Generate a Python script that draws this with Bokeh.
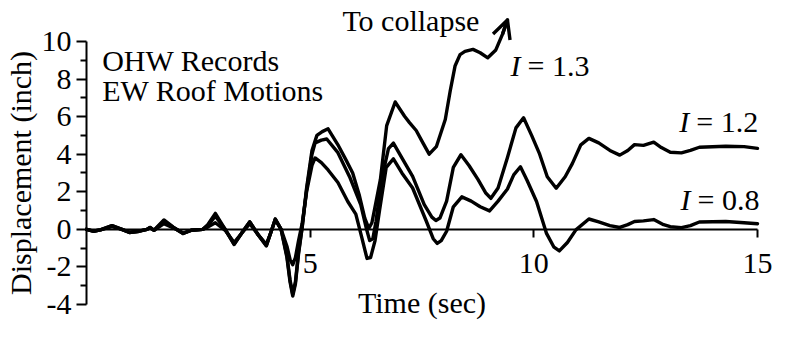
import math
from bokeh.plotting import figure
from bokeh.models import Range1d, FixedTicker, Label, Arrow, OpenHead
from bokeh.embed import file_html
from bokeh.resources import INLINE

# ---- data ----
x_ticks = [5, 10, 15]
y_ticks = [-4, -2, 0, 2, 4, 6, 8, 10]
y_minor = [-3, -1, 1, 3, 5, 7, 9]

t_13 = [0.0, 0.15, 0.31, 0.57, 0.79, 0.96, 1.18, 1.35, 1.42, 1.51, 1.73, 1.94, 2.16, 2.34, 2.60, 2.71,
        2.88, 3.10, 3.30, 3.47, 3.65, 3.84, 4.02, 4.13, 4.22, 4.35, 4.48, 4.55, 4.61, 4.67, 4.74, 4.82,
        4.92, 5.04, 5.15, 5.27, 5.40, 5.62, 5.80, 5.95, 6.10, 6.22, 6.31, 6.38, 6.45, 6.57, 6.71, 6.90,
        7.11, 7.22, 7.37, 7.52, 7.66, 7.82, 8.02, 8.13, 8.24, 8.35, 8.46, 8.64, 8.80, 8.97, 9.15, 9.30, 9.41]
d_13 = [0.0, -0.1, -0.03, 0.2, 0.0, -0.17, -0.1, 0.0, 0.1, -0.05, 0.5, 0.12, -0.22, -0.05, 0.0, 0.25,
        0.85, 0.0, -0.8, -0.2, 0.4, -0.3, -0.88, -0.1, 0.55, 0.0, -1.5, -2.8, -3.55, -2.9, -1.3, 0.1,
        2.2, 4.2, 5.0, 5.2, 5.35, 4.5, 3.7, 3.0, 1.8, 0.6, 0.05, 0.35, 1.2, 2.66, 5.52, 6.78,
        6.02, 5.68, 5.26, 4.6, 4.0, 4.4, 5.85, 7.36, 8.71, 9.3, 9.47, 9.58, 9.4, 9.13, 9.55, 10.39, 11.14]

t_12 = [0.0, 0.15, 0.31, 0.57, 0.79, 0.96, 1.18, 1.35, 1.42, 1.51, 1.73, 1.94, 2.16, 2.34, 2.60, 2.71,
        2.88, 3.10, 3.30, 3.47, 3.65, 3.84, 4.02, 4.13, 4.22, 4.35, 4.48, 4.55, 4.61, 4.67, 4.74, 4.82,
        4.92, 5.04, 5.11, 5.25, 5.37, 5.62, 5.88, 6.13, 6.25, 6.33, 6.40, 6.47, 6.60, 6.75, 6.86, 7.05,
        7.29, 7.55, 7.72, 7.81, 7.90, 8.05, 8.20, 8.37, 8.55, 8.75, 8.92, 9.04, 9.20, 9.41, 9.60, 9.77,
        9.95, 10.13, 10.30, 10.50, 10.70, 10.86, 11.05, 11.23, 11.45, 11.70, 11.92, 12.10, 12.25, 12.45,
        12.68, 12.85, 13.05, 13.30, 13.50, 13.70, 14.29, 14.70, 15.0]
d_12 = [0.0, -0.1, -0.03, 0.2, 0.0, -0.17, -0.1, 0.0, 0.1, -0.05, 0.45, 0.1, -0.22, -0.05, 0.0, 0.2,
        0.7, 0.0, -0.8, -0.2, 0.4, -0.3, -0.86, -0.1, 0.55, 0.0, -1.4, -2.7, -3.45, -2.8, -1.2, 0.1,
        2.1, 4.0, 4.6, 4.75, 4.81, 4.08, 2.8, 1.31, 0.1, -0.6, -0.5, 0.4, 2.7, 4.3, 4.59, 3.8,
        2.82, 1.31, 0.65, 0.47, 0.6, 1.5, 3.3, 3.97, 3.4, 2.66, 1.95, 1.65, 2.2, 3.83, 5.4, 5.94,
        5.0, 4.0, 2.8, 2.19, 2.8, 3.5, 4.5, 4.84, 4.6, 4.2, 3.95, 4.2, 4.51, 4.47,
        4.64, 4.35, 4.1, 4.07, 4.2, 4.37, 4.42, 4.40, 4.31]

t_08 = [0.0, 0.15, 0.31, 0.57, 0.79, 0.96, 1.18, 1.35, 1.42, 1.51, 1.73, 1.94, 2.16, 2.34, 2.60, 2.71,
        2.88, 3.10, 3.30, 3.47, 3.65, 3.84, 4.02, 4.13, 4.22, 4.35, 4.48, 4.55, 4.61, 4.67, 4.74, 4.82,
        4.92, 5.04, 5.11, 5.25, 5.40, 5.62, 5.84, 6.02, 6.15, 6.27, 6.35, 6.45, 6.55, 6.70, 6.86, 7.05,
        7.29, 7.59, 7.75, 7.84, 7.93, 8.05, 8.20, 8.39, 8.60, 8.80, 9.01, 9.20, 9.41, 9.55, 9.70, 9.85,
        10.06, 10.28, 10.45, 10.57, 10.75, 10.94, 11.23, 11.45, 11.70, 11.92, 12.10, 12.25, 12.45, 12.68,
        12.90, 13.05, 13.30, 13.50, 13.70, 14.29, 14.70, 15.0]
d_08 = [0.0, -0.1, -0.03, 0.15, 0.0, -0.15, -0.1, 0.0, 0.08, -0.05, 0.3, 0.08, -0.2, -0.05, 0.0, 0.12,
        0.35, -0.05, -0.7, -0.2, 0.3, -0.3, -0.8, -0.1, 0.5, 0.0, -0.9, -1.6, -1.88, -1.5, -0.6, 0.3,
        2.0, 3.4, 3.8, 3.55, 3.16, 2.49, 1.48, 0.81, -0.4, -1.55, -1.5, -0.6, 1.0, 3.3, 3.75, 3.0,
        2.2, 0.47, -0.5, -0.75, -0.6, -0.1, 1.2, 1.73, 1.5, 1.2, 0.98, 1.5, 2.15, 2.9, 3.33, 2.6,
        1.48, -0.2, -0.95, -1.15, -0.7, -0.03, 0.55, 0.4, 0.2, 0.1, 0.25, 0.42, 0.45, 0.52,
        0.25, 0.14, 0.09, 0.2, 0.39, 0.42, 0.35, 0.3]

# ---- styles / positions ----
FONT = "Liberation Serif"
FS = "30px"
LW = 3.4
LIFT = 10  # px: raise labels so their baselines land where intended

# the frame fills the whole canvas; both axes sit at fixed data locations inside it
p = figure(width=772, height=321, output_backend="svg", toolbar_location=None,
           x_range=Range1d(-1.923, 15.335), y_range=Range1d(-4.905, 12.18),
           min_border_left=0, min_border_right=0, min_border_top=0, min_border_bottom=0)
p.outline_line_color = None
p.grid.visible = False
p.background_fill_color = "white"
p.border_fill_color = "white"

xa = p.xaxis[0]
xa.fixed_location = 0
xa.ticker = FixedTicker(ticks=x_ticks)
xa.bounds = (0, 15)
xa.axis_line_width = 2
xa.major_tick_line_width = 2
xa.major_tick_out = 8
xa.major_tick_in = 0
xa.minor_tick_line_color = None
xa.major_label_text_font = FONT
xa.major_label_text_font_size = FS
xa.major_label_text_color = "black"
xa.major_label_standoff = 17

ya = p.yaxis[0]
ya.fixed_location = 0
ya.ticker = FixedTicker(ticks=y_ticks, minor_ticks=y_minor)
ya.bounds = (-4, 10)
ya.major_label_overrides = {v: str(v) for v in y_ticks}
ya.axis_line_width = 2
ya.major_tick_line_width = 2
ya.minor_tick_line_width = 2
ya.major_tick_out = 10
ya.major_tick_in = 0
ya.minor_tick_out = 6
ya.minor_tick_in = 0
ya.major_label_text_font = FONT
ya.major_label_text_font_size = FS
ya.major_label_text_color = "black"
ya.major_label_standoff = 5

for t, d in [(t_08, d_08), (t_12, d_12), (t_13, d_13)]:
    p.line(t, d, line_color="black", line_width=LW, line_join="round", line_cap="round")

p.add_layout(Arrow(end=OpenHead(size=18, line_width=LW, line_color="black", line_join="round"),
                   x_start=t_13[-2], y_start=d_13[-2], x_end=t_13[-1], y_end=d_13[-1],
                   line_width=LW, line_color="black"))

def lab(x, y, text, style="normal", xoff=0, yoff=LIFT, angle=0, align="left"):
    p.add_layout(Label(x=x, y=y, text=text, x_offset=xoff, y_offset=yoff, angle=angle,
                       text_font=FONT, text_font_size=FS, text_font_style=style,
                       text_color="black", text_baseline="alphabetic", text_align=align))

# axis titles
lab(-1.475, 3.0, "Displacement (inch)", yoff=0, angle=math.pi / 2, align="center")
lab(7.5, -4.43, "Time (sec)", align="center")

lab(0.35, 8.46, "OHW Records")
lab(0.35, 6.85, "EW Roof Motions")
lab(5.72, 10.57, "To collapse")
for (lx, ly, val) in [(9.48, 8.19, "1.3"), (13.25, 5.2, "1.2"), (13.28, 1.05, "0.8")]:
    lab(lx, ly, "I", style="italic")
    lab(lx, ly, "= " + val, xoff=17)

open("out.html", "w").write(file_html(p, INLINE))
